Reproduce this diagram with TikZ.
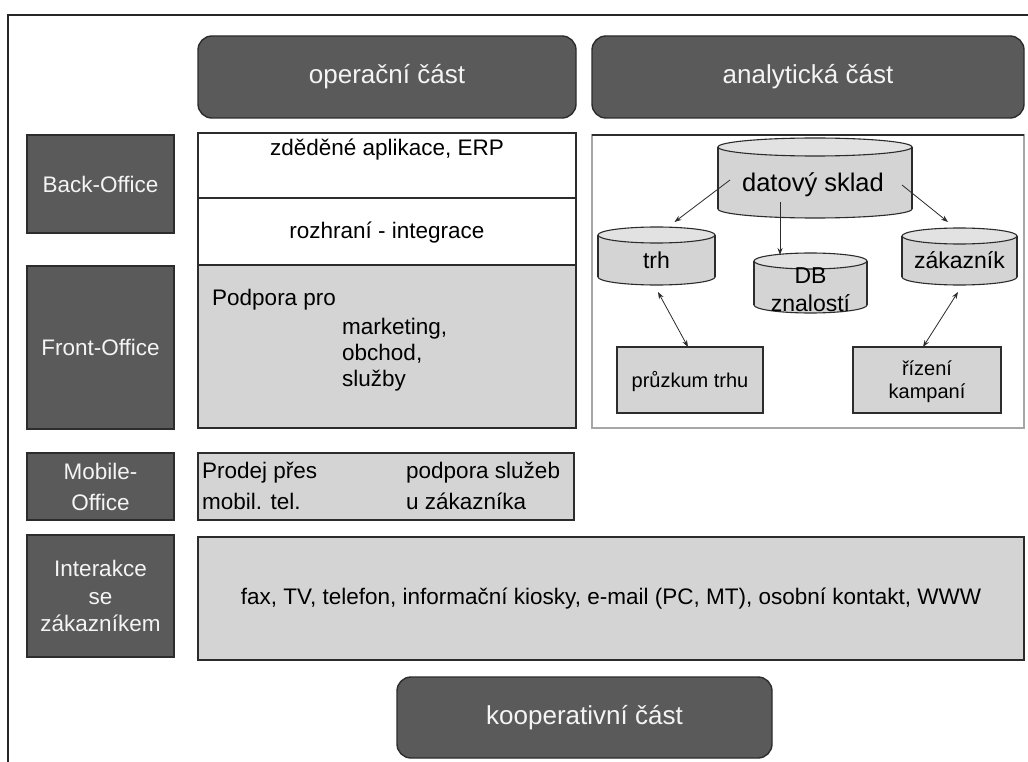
\documentclass[tikz,border=0pt]{standalone}
\usepackage{fontspec}
\setmainfont{Liberation Sans}
\usetikzlibrary{arrows.meta,calc}

\definecolor{darkfill}{HTML}{5A5A5A}
\definecolor{darkline}{HTML}{2C2C2C}
\definecolor{lightfill}{HTML}{D4D4D4}
\definecolor{drumtop}{HTML}{E2E2E2}
\definecolor{panelline}{HTML}{A6A6A6}
\definecolor{labeltext}{HTML}{F4F4F4}

% font size given in picture units (1pt per unit)
\newcommand\pxfont[2]{\fontsize{#1}{#2}\selectfont}

% upright database drum: left, top, right, bottom, half-height of the end ellipses
\newcommand\drumshape[5]{%
  \pgfmathsetmacro\drumrx{(#3-#1)/2}%
  \pgfmathsetmacro\drumcx{(#1+#3)/2}%
  \filldraw[drumline, fill=lightfill] (\drumcx,#4-#5) ellipse[x radius=\drumrx, y radius=#5];
  \fill[lightfill] (#1,#2+#5) rectangle (#3,#4-#5);
  \draw[drumline] (#1,#2+#5) -- (#1,#4-#5) (#3,#2+#5) -- (#3,#4-#5);
  \filldraw[drumline, fill=drumtop] (\drumcx,#2+#5) ellipse[x radius=\drumrx, y radius=#5];
}

\begin{document}
\begin{tikzpicture}[x=1pt,y=-1pt,
  box/.style={draw=darkline, line width=1.4pt, inner sep=0pt, outer sep=0pt, anchor=north west},
  headbox/.style={box, fill=darkfill, rounded corners=14pt, text=labeltext, font=\pxfont{26}{31}},
  sidebox/.style={box, fill=darkfill, text=labeltext, align=center, font=\pxfont{22.5}{27.5}},
  whitebox/.style={box, fill=white},
  greybox/.style={box, fill=lightfill},
  area/.style={inner sep=0pt, outer sep=0pt, anchor=north west},
  txt/.style={inner sep=0pt, font=\pxfont{22.5}{27}},
  drumtxt/.style={inner sep=0pt, anchor=base, font=\pxfont{23}{28}},
  smalltxt/.style={inner sep=0pt, anchor=base, font=\pxfont{20}{25}},
  drumline/.style={draw=darkline, line width=1.1pt},
  arr/.style={draw=darkline, line width=0.8pt, -{Stealth[length=7pt,width=5pt]}},
  biarr/.style={draw=darkline, line width=0.8pt, {Stealth[length=7pt,width=5pt]}-{Stealth[length=7pt,width=5pt]}},
  frame/.style={draw=black!85, line width=2.4pt},
]
\useasboundingbox (0,0) rectangle (1028,762);
\fill[white] (0,0) rectangle (1028,762);

% outer frame
\draw[frame] (1028,15) -- (8,15) -- (8,762);

% column headings
\node[headbox, minimum width=378pt, minimum height=82pt] (op) at (198,36) {operační část};
\node[headbox, minimum width=432pt, minimum height=82pt] (an) at (592,36) {analytická část};

% row labels
\node[sidebox, minimum width=147pt, minimum height=98pt] (back) at (27,135) {Back-Office};
\node[sidebox, minimum width=147pt, minimum height=163pt] (front) at (27,266) {Front-Office};
\node[sidebox, minimum width=147pt, minimum height=67pt, font=\pxfont{22.5}{31}] (mobile) at (27,453) {Mobile-\\Office};
\node[sidebox, minimum width=147pt, minimum height=122pt] (inter) at (27,535) {Interakce\\se\\zákazníkem};

% operational column
\node[whitebox, minimum width=378pt, minimum height=65pt] (erp) at (198,133) {};
\node[txt, anchor=base] (erptxt) at (387,156) {zděděné aplikace, ERP};
\node[whitebox, minimum width=378pt, minimum height=67pt] (integ) at (198,198) {};
\node[txt, anchor=base] (integtxt) at (387,239) {rozhraní - integrace};
\node[greybox, minimum width=378pt, minimum height=163pt] (podpora) at (198,265) {};
\node[txt, anchor=base west] (pp1) at (212,305) {Podpora pro};
\node[txt, anchor=base west] (pp2) at (342,334) {marketing,};
\node[txt, anchor=base west] (pp3) at (342,360) {obchod,};
\node[txt, anchor=base west] (pp4) at (342,386) {služby};

% mobile office row
\node[greybox, minimum width=376pt, minimum height=67pt] (mob) at (198,453) {};
\node[txt, anchor=base west] (mob1) at (202,478) {Prodej přes};
\node[txt, anchor=base west] (mob2) at (202,509) {mobil. tel.};
\node[txt, anchor=base west] (mob3) at (406,478) {podpora služeb};
\node[txt, anchor=base west] (mob4) at (406,509) {u zákazníka};

% customer interaction row
\node[greybox, minimum width=826pt, minimum height=123pt] (chan) at (198,537) {};
\node[txt, anchor=base] (chantxt) at (611,604) {fax, TV, telefon, informační kiosky, e-mail (PC, MT), osobní kontakt, WWW};

% cooperative part
\node[headbox, minimum width=375pt, minimum height=81pt] (koop) at (397,677) {kooperativní část};

% analytical panel
\node[box, draw=panelline, fill=white, minimum width=432pt, minimum height=293pt] (panel) at (592,135) {};
\draw[darkline, line width=1.4pt] (panel.north west) -- (panel.north east);

\drumshape{718}{138}{912}{218}{9}
\drumshape{598}{227}{715}{285}{8}
\drumshape{754}{253}{867}{313}{8}
\drumshape{902}{228}{1017}{285}{8}

\node[area, minimum width=194pt, minimum height=80pt] (sklad) at (718,138) {};
\node[area, minimum width=117pt, minimum height=58pt] (trh) at (598,227) {};
\node[area, minimum width=113pt, minimum height=60pt] (db) at (754,253) {};
\node[area, minimum width=115pt, minimum height=57pt] (zak) at (902,228) {};

\node[drumtxt, font=\pxfont{25.5}{30}] (skladtxt) at (813,191.5) {datový sklad};
\node[drumtxt] (trhtxt) at (656.5,268) {trh};
\node[drumtxt] (dbtxt1) at (810.5,283) {DB};
\node[drumtxt] (dbtxt2) at (810.5,311) {znalostí};
\node[drumtxt] (zaktxt) at (959.5,268) {zákazník};

\node[greybox, minimum width=146pt, minimum height=66pt] (pruzkum) at (617,347) {};
\node[smalltxt] (pruzkumtxt) at (690,387.5) {průzkum trhu};
\node[greybox, minimum width=148pt, minimum height=66pt] (rizeni) at (853,347) {};
\node[smalltxt] (rizenitxt1) at (927,375) {řízení};
\node[smalltxt] (rizenitxt2) at (927,398) {kampaní};

% data flows
\draw[arr] ($(sklad.west)+(12,2)$) -- ($(trh.north)+(18,-5)$);
\draw[arr] ($(sklad.south)+(-35,-16)$) -- ($(db.north)+(-30.5,2)$);
\draw[arr] ($(sklad.east)+(-10,7)$) -- ($(zak.north)+(-11.5,-6)$);
\draw[biarr] ($(trh.south)+(1.5,7)$) -- ($(pruzkum.north)+(-2,0)$);
\draw[biarr] ($(zak.south)+(-1.5,7)$) -- ($(rizeni.north)+(-4,0)$);
\end{tikzpicture}
\end{document}
